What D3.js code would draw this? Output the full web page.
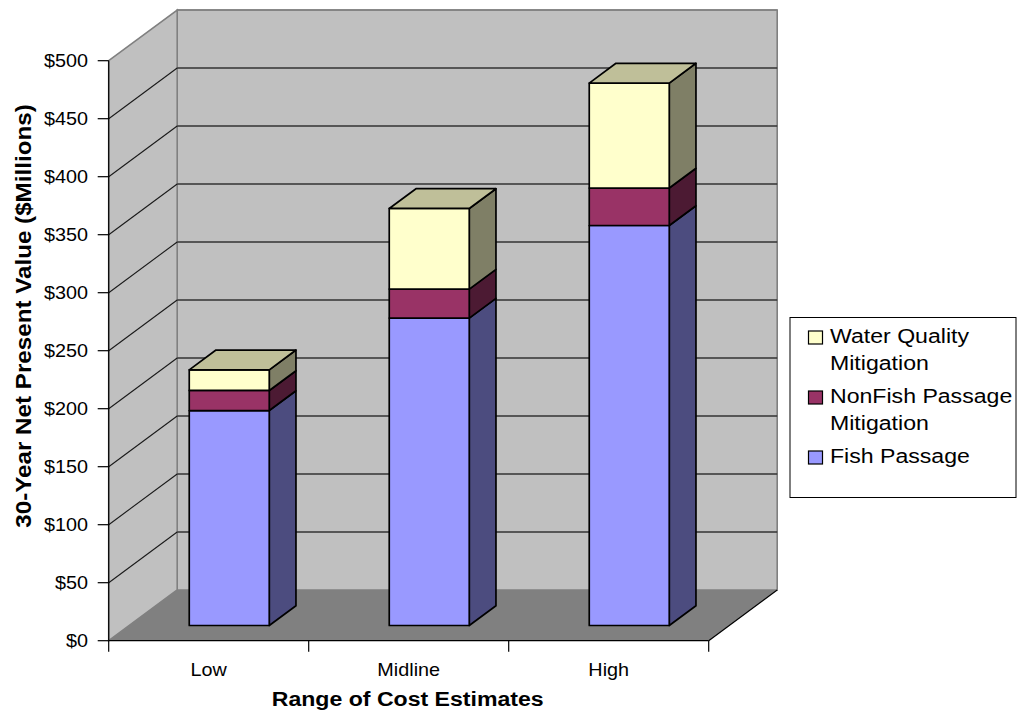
<!DOCTYPE html>
<html>
<head>
<meta charset="utf-8">
<script src="https://cdn.jsdelivr.net/npm/d3@7"></script>
<style>
  html, body { margin: 0; padding: 0; background: #ffffff; }
  svg { display: block; }
  text { font-family: "Liberation Sans", Arial, sans-serif; fill: #000; }
</style>
</head>
<body>
<svg id="chart" width="1020" height="713"></svg>
<script>
// Cost estimate ranges and the three cost components ($ millions, 30-year NPV)
const categories = ["Low", "Midline", "High"];
const seriesNames = ["Fish Passage", "NonFish Passage Mitigation", "Water Quality Mitigation"];
const fishPassage = [185.3, 265.0, 344.8];
const nonFishPassage = [17.3, 25.0, 32.3];
const waterQuality = [17.8, 69.5, 90.5];
const yTicks = [0, 50, 100, 150, 200, 250, 300, 350, 400, 450, 500];

const svg = d3.select("#chart");

// Oblique 3-D frame: front plane plus a depth offset toward the upper right
const plotL = 108.7, plotR = 708.7, plotB = 640.7, plotT = 60.7;
const DX = 68.5, DY = -50.7;
const x = d3.scaleBand().domain(categories).range([plotL, plotR]).paddingInner(0).paddingOuter(0);
const y = d3.scaleLinear().domain([0, 500]).range([plotB, plotT]);

// project (screen-x in front plane, value, depth 0..1)
const P = (px, v, z) => [px + z * DX, y(v) + z * DY];
const poly = pts => "M" + pts.map(p => p.join(",")).join("L") + "Z";

// text is drawn slightly wide along its run direction
const TX = 1.1;
const label = (g, px, py, extra = "") =>
  g.append("text").attr("transform", `translate(${px},${py}) ${extra} scale(${TX},1)`);

// walls
const wallFill = "#c0c0c0", floorFill = "#808080", frameStroke = "#808080";
svg.append("path")
  .attr("d", poly([P(plotL, 0, 1), P(plotR, 0, 1), P(plotR, 500, 1), P(plotL, 500, 1)]))
  .attr("fill", wallFill).attr("stroke", frameStroke).attr("stroke-width", 1.6);
svg.append("path")
  .attr("d", poly([P(plotL, 0, 0), P(plotL, 0, 1), P(plotL, 500, 1), P(plotL, 500, 0)]))
  .attr("fill", wallFill).attr("stroke", frameStroke).attr("stroke-width", 1.6);
svg.append("path")
  .attr("d", poly([P(plotL, 0, 0), P(plotR, 0, 0), P(plotR, 0, 1), P(plotL, 0, 1)]))
  .attr("fill", floorFill).attr("stroke", "none");

// gridlines on back wall and side wall
const grid = svg.append("g");
yTicks.filter(t => t > 0).forEach(t => {
  const a = P(plotL, t, 1), b = P(plotR, t, 1), c = P(plotL, t, 0);
  grid.append("line").attr("x1", a[0]).attr("y1", a[1]).attr("x2", b[0]).attr("y2", b[1])
    .attr("stroke", t === 500 ? frameStroke : "#333333").attr("stroke-width", t === 500 ? 1.6 : 1.3);
  if (t < 500) {
    grid.append("line").attr("x1", c[0]).attr("y1", c[1]).attr("x2", a[0]).attr("y2", a[1])
      .attr("stroke", "#1a1a1a").attr("stroke-width", 1.1);
  }
});
// floor right edge
{
  const a = P(plotR, 0, 0), b = P(plotR, 0, 1);
  svg.append("line").attr("x1", a[0]).attr("y1", a[1]).attr("x2", b[0]).attr("y2", b[1])
    .attr("stroke", "#000").attr("stroke-width", 1.2);
}

// stacked bars
const data = categories.map((c, i) => ({
  cat: c,
  "Fish Passage": fishPassage[i],
  "NonFish Passage Mitigation": nonFishPassage[i],
  "Water Quality Mitigation": waterQuality[i]
}));
const stacked = d3.stack().keys(seriesNames)(data);
const colors = {
  "Fish Passage": { front: "#9999ff", side: "#4c4c7f", top: "#7a7acc" },
  "NonFish Passage Mitigation": { front: "#993366", side: "#4c1a33", top: "#7a2952" },
  "Water Quality Mitigation": { front: "#ffffcc", side: "#7f7f66", top: "#bfbf99" }
};
const z0 = 0.3, z1 = 0.69, barW = 80;
const bars = svg.append("g");
const edge = s => s.attr("stroke", "#000").attr("stroke-width", 1.7).attr("stroke-linejoin", "round");
categories.forEach((c, i) => {
  const bx0 = x(c) + (x.bandwidth() - barW) / 2, bx1 = bx0 + barW;
  stacked.forEach((layer, k) => {
    const [v0, v1] = layer[i];
    const col = colors[layer.key];
    edge(bars.append("path")
      .attr("d", poly([P(bx1, v0, z0), P(bx1, v0, z1), P(bx1, v1, z1), P(bx1, v1, z0)]))
      .attr("fill", col.side));
    edge(bars.append("path")
      .attr("d", poly([P(bx0, v0, z0), P(bx1, v0, z0), P(bx1, v1, z0), P(bx0, v1, z0)]))
      .attr("fill", col.front));
    if (k === stacked.length - 1) {
      edge(bars.append("path")
        .attr("d", poly([P(bx0, v1, z0), P(bx1, v1, z0), P(bx1, v1, z1), P(bx0, v1, z1)]))
        .attr("fill", col.top));
    }
  });
});

// value axis
const yAxis = svg.append("g");
yAxis.append("line").attr("x1", plotL).attr("x2", plotL).attr("y1", plotT).attr("y2", plotB)
  .attr("stroke", "#000").attr("stroke-width", 1.2);
yTicks.forEach(t => {
  yAxis.append("line").attr("x1", plotL - 11).attr("x2", plotL).attr("y1", y(t)).attr("y2", y(t))
    .attr("stroke", "#000").attr("stroke-width", 1.2);
  label(yAxis, 88, y(t)).attr("dy", "0.36em")
    .attr("text-anchor", "end").attr("font-size", 18).text("$" + t);
});

// category axis
const xAxis = svg.append("g");
xAxis.append("line").attr("x1", plotL).attr("x2", plotR).attr("y1", plotB).attr("y2", plotB)
  .attr("stroke", "#000").attr("stroke-width", 1.2);
[plotL, ...categories.map(c => x(c) + x.bandwidth())].forEach(px => {
  xAxis.append("line").attr("x1", px).attr("x2", px).attr("y1", plotB).attr("y2", plotB + 11)
    .attr("stroke", "#000").attr("stroke-width", 1.2);
});
categories.forEach(c => {
  label(xAxis, x(c) + x.bandwidth() / 2, 676)
    .attr("text-anchor", "middle").attr("font-size", 18).text(c);
});

// axis titles
label(svg, (plotL + plotR) / 2 - 1, 706)
  .attr("text-anchor", "middle").attr("font-size", 21).attr("font-weight", "bold")
  .text("Range of Cost Estimates");
label(svg, 31, 316, "rotate(-90)")
  .attr("text-anchor", "middle").attr("font-size", 22).attr("font-weight", "bold")
  .text("30-Year Net Present Value ($Millions)");

// legend
const legend = svg.append("g");
legend.append("rect").attr("x", 790).attr("y", 317.5).attr("width", 226).attr("height", 180)
  .attr("fill", "#fff").attr("stroke", "#000").attr("stroke-width", 1);
const legendItems = [
  { key: "Water Quality Mitigation", lines: ["Water Quality", "Mitigation"], sy: 331, ty: 343 },
  { key: "NonFish Passage Mitigation", lines: ["NonFish Passage", "Mitigation"], sy: 391, ty: 403 },
  { key: "Fish Passage", lines: ["Fish Passage"], sy: 451, ty: 463 }
];
legendItems.forEach(it => {
  legend.append("rect").attr("x", 808.5).attr("y", it.sy).attr("width", 14).attr("height", 13)
    .attr("fill", colors[it.key].front).attr("stroke", "#000").attr("stroke-width", 1.2);
  it.lines.forEach((ln, j) => {
    label(legend, 830, it.ty + j * 27).attr("font-size", 21).text(ln);
  });
});
</script>
</body>
</html>
